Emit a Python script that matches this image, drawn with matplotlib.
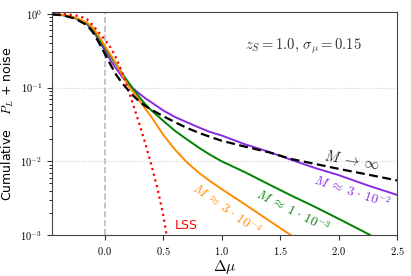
"""
Cumulative lensing probability P_L + noise vs delta mu, for a few halo masses.
"""
import numpy as np
import matplotlib
matplotlib.use("Agg")
from matplotlib import pyplot as plt
from matplotlib.ticker import FixedLocator, FuncFormatter, LogLocator, NullFormatter

plt.rcParams["mathtext.fontset"] = "cm"

# M -> infinity
x_inf = [-0.45, -0.35, -0.25, -0.15, -0.1, -0.05, 0.0, 0.05, 0.1, 0.15, 0.2, 0.25, 0.3,
         0.35, 0.4, 0.5, 0.6, 0.7, 0.8, 0.9, 1.0, 1.2, 1.4, 1.6, 1.8, 2.0, 2.25, 2.5]
y_inf = [0.985, 0.95, 0.86, 0.70, 0.56, 0.41, 0.29, 0.205, 0.148, 0.115, 0.093, 0.076, 0.064,
         0.056, 0.050, 0.041, 0.034, 0.0285, 0.0245, 0.0215, 0.019, 0.0158, 0.0133, 0.0107,
         0.0092, 0.0079, 0.0066, 0.0055]

# M ~ 3e-2
x_m2 = [-0.45, -0.35, -0.25, -0.15, -0.1, -0.05, 0.0, 0.05, 0.1, 0.15, 0.2, 0.25, 0.3,
        0.35, 0.4, 0.5, 0.6, 0.7, 0.8, 0.9, 1.0, 1.2, 1.4, 1.6, 1.8, 2.0, 2.25, 2.5]
y_m2 = [0.99, 0.955, 0.87, 0.72, 0.59, 0.44, 0.32, 0.235, 0.18, 0.14, 0.113, 0.095, 0.082,
        0.071, 0.063, 0.049, 0.040, 0.034, 0.029, 0.025, 0.0224, 0.0170, 0.0135, 0.0104,
        0.0081, 0.0065, 0.0047, 0.0035]

# M ~ 1e-3
x_m3 = [-0.45, -0.35, -0.25, -0.15, -0.1, -0.05, 0.0, 0.05, 0.1, 0.15, 0.2, 0.25, 0.3,
        0.35, 0.4, 0.5, 0.6, 0.7, 0.8, 0.9, 1.0, 1.2, 1.4, 1.6, 1.8, 2.0, 2.27]
y_m3 = [0.99, 0.96, 0.88, 0.74, 0.62, 0.47, 0.35, 0.265, 0.205, 0.155, 0.120, 0.093, 0.073,
        0.059, 0.049, 0.0355, 0.026, 0.020, 0.0155, 0.0123, 0.0100, 0.0071, 0.0049, 0.0034,
        0.0024, 0.00166, 0.001]

# M ~ 3e-4
x_m4 = [-0.45, -0.35, -0.25, -0.15, -0.1, -0.05, 0.0, 0.05, 0.1, 0.15, 0.2, 0.25, 0.3,
        0.35, 0.4, 0.5, 0.6, 0.7, 0.8, 0.9, 1.0, 1.2, 1.41, 1.59]
y_m4 = [0.995, 0.965, 0.89, 0.76, 0.65, 0.50, 0.37, 0.28, 0.21, 0.15, 0.107, 0.085, 0.066,
        0.051, 0.040, 0.023, 0.0145, 0.0098, 0.0071, 0.0054, 0.0042, 0.0026, 0.00155, 0.001]

# LSS only
x_lss = [-0.45, -0.35, -0.25, -0.2, -0.15, -0.1, -0.05, 0.0, 0.05, 0.1, 0.15, 0.2, 0.25,
         0.3, 0.35, 0.4, 0.45, 0.5, 0.53]
y_lss = [1.0, 0.99, 0.955, 0.91, 0.84, 0.70, 0.56, 0.45, 0.35, 0.25, 0.16, 0.095, 0.055,
         0.031, 0.017, 0.0089, 0.0044, 0.0019, 0.001]

x_ticks = [0.0, 0.5, 1.0, 1.5, 2.0, 2.5]
y_ticks = [1e-3, 1e-2, 1e-1, 1e0]

C_M2 = "#8a2be2"
C_M3 = "green"
C_M4 = "darkorange"
C_LSS = "red"

fig = plt.figure(figsize=(4.11, 2.76), dpi=100)
ax = fig.add_axes([0.1265, 0.1486, 0.8395, 0.808])

ax.axvline(0.0, color="#bbbbbb", ls="--", lw=1.2, zorder=0)
for yv in [1e-2, 1e-1]:
    ax.axhline(yv, color="#cccccc", ls=":", lw=0.8, zorder=0)

ax.plot(x_m2, y_m2, color=C_M2, lw=1.4)
ax.plot(x_m3, y_m3, color=C_M3, lw=1.4)
ax.plot(x_m4, y_m4, color=C_M4, lw=1.4)
ax.plot(x_lss, y_lss, color=C_LSS, ls=":", lw=1.6)
ax.plot(x_inf, y_inf, color="black", ls=(0, (4, 2)), lw=1.6)

ax.set_yscale("log")
ax.set_xlim(-0.45, 2.5)
ax.set_ylim(1e-3, 1.06)

ax.xaxis.set_major_locator(FixedLocator(x_ticks))
ax.xaxis.set_major_formatter(FuncFormatter(lambda v, p: f"${v:.1f}$"))
ax.yaxis.set_major_locator(FixedLocator(y_ticks))
ax.yaxis.set_major_formatter(FuncFormatter(lambda v, p: r"$10^{%d}$" % round(np.log10(v))))
ax.yaxis.set_minor_locator(LogLocator(base=10, subs=range(2, 10)))
ax.yaxis.set_minor_formatter(NullFormatter())
ax.tick_params(labelsize=7.5, colors="#333333", labelcolor="black")
for s in ax.spines.values():
    s.set_color("#444444")

ax.set_xlabel(r"$\Delta\mu$", fontsize=11, labelpad=1)
ax.set_ylabel(r"Cumulative $\quad P_L$ + noise", fontsize=9, labelpad=3)

ax.text(0.73, 0.845, r"$z_S = 1.0,\, \sigma_\mu = 0.15$", transform=ax.transAxes,
        ha="center", va="center", fontsize=10.5, color="#333333")

ax.text(2.115, 0.0103, r"$M \;\rightarrow\; \infty$", color="#222222", fontsize=10.5,
        rotation=-10, ha="center", va="center")
ax.text(2.115, 0.0038, r"$M \;\approx\; 3 \,\cdot\, 10^{-2}$", color=C_M2, fontsize=9.5,
        rotation=-18, ha="center", va="center")
ax.text(1.61, 0.0021, r"$M \;\approx\; 1 \,\cdot\, 10^{-3}$", color=C_M3, fontsize=9.5,
        rotation=-27, ha="center", va="center")
ax.text(1.045, 0.0022, r"$M \;\approx\; 3 \,\cdot\, 10^{-4}$", color=C_M4, fontsize=9.5,
        rotation=-35, ha="center", va="center")
ax.text(0.694, 0.00136, "LSS", color=C_LSS, fontsize=9, ha="center", va="center")

fig.savefig("out.png", dpi=100)
